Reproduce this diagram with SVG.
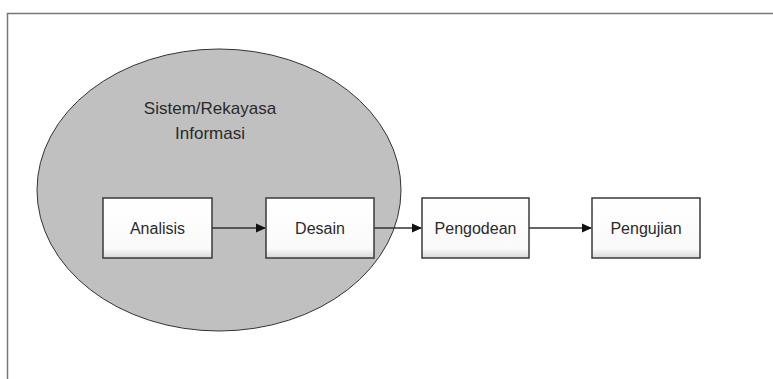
<svg xmlns="http://www.w3.org/2000/svg" width="773" height="379" viewBox="0 0 773 379">
  <style>
    .box { fill: url(#boxfill); stroke: #3a3a3a; stroke-width: 1.5; }
    .lbl { font-family: "Liberation Sans", Arial, sans-serif; font-size: 16px; fill: #2a2a2a; text-anchor: middle; }
    .title { font-family: "Liberation Sans", Arial, sans-serif; font-size: 17px; fill: #2a2a2a; text-anchor: middle; }
    .conn { stroke: #333; stroke-width: 1.5; fill: none; marker-end: url(#arrow); }
  </style>
  <defs>
    <marker id="arrow" markerWidth="10" markerHeight="10" refX="9" refY="5" orient="auto" markerUnits="userSpaceOnUse">
      <path d="M0,0.5 L10,5 L0,9.5 Z" fill="#111"/>
    </marker>
    <linearGradient id="boxfill" x1="0" y1="0" x2="0" y2="1">
      <stop offset="0" stop-color="#ffffff"/>
      <stop offset="0.85" stop-color="#fafafa"/>
      <stop offset="1" stop-color="#d8d8d8"/>
    </linearGradient>
  </defs>
  <rect x="0" y="0" width="773" height="379" fill="#ffffff"/>
  <path d="M7.5,390 L7.5,13.5 L790,13.5" fill="none" stroke="#777" stroke-width="1.5"/>

  <g id="ellipse-group">
    <ellipse cx="219" cy="190" rx="182" ry="141" fill="#c0c0c0" stroke="#333" stroke-width="1"/>
    <text class="title" x="210" y="114">Sistem/Rekayasa</text>
    <text class="title" x="210" y="139">Informasi</text>
  </g>

  <g id="connectors">
    <line class="conn" x1="212" y1="228" x2="265" y2="228"/>
    <line class="conn" x1="374" y1="228" x2="421" y2="228"/>
    <line class="conn" x1="529" y1="228" x2="591" y2="228"/>
  </g>

  <g id="analisis">
    <rect class="box" x="103" y="198" width="109" height="60"/>
    <text class="lbl" x="157.5" y="234">Analisis</text>
  </g>
  <g id="desain">
    <rect class="box" x="266" y="198" width="108" height="60"/>
    <text class="lbl" x="320" y="234">Desain</text>
  </g>
  <g id="pengodean">
    <rect class="box" x="422" y="198" width="107" height="60"/>
    <text class="lbl" x="475.5" y="234">Pengodean</text>
  </g>
  <g id="pengujian">
    <rect class="box" x="592" y="198" width="108" height="60"/>
    <text class="lbl" x="646" y="234">Pengujian</text>
  </g>
</svg>
